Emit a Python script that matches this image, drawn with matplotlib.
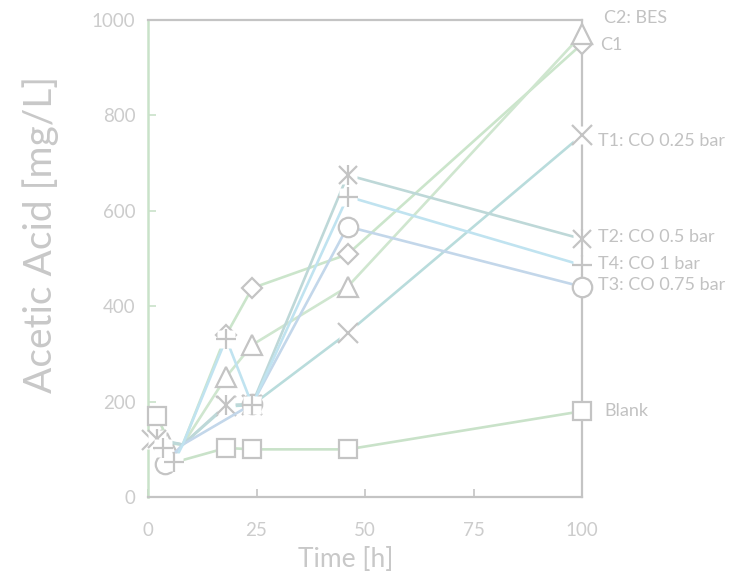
import matplotlib
matplotlib.use("Agg")
import matplotlib.pyplot as plt

plt.rcParams["font.family"] = ["Lato", "DejaVu Sans"]

# ---- data ----
T_BLANK = [2, 7, 18, 24, 46, 100]
BLANK = [170, 75, 103, 100, 100, 180]

T_C1 = [2, 8, 18, 24, 46, 100]
C1 = [118, 110, 340, 438, 509, 950]

T_C2 = [4.3, 8, 18, 24, 46, 100]
C2 = [113, 110, 252, 319, 441, 970]

T_T1 = [1, 8, 18, 24, 46, 100]
T1 = [120, 110, 190, 193, 344, 759]

T_T2 = [2, 8, 18, 24, 46, 100]
T2 = [122, 110, 193, 195, 675, 541]

T_T3 = [3.8, 8, 24, 46, 100]
T3 = [70, 110, 195, 567, 441]

T_T4 = [3.5, 6, 8, 18, 24, 46, 100]
T4 = [102, 74, 110, 332, 193, 630, 486]

LABELS = ["Blank", "C1", "C2: BES", "T1: CO 0.25 bar", "T2: CO 0.5 bar",
          "T3: CO 0.75 bar", "T4: CO 1 bar"]

X_TICKS = [0, 25, 50, 75, 100]
Y_TICKS = [0, 200, 400, 600, 800, 1000]

# ---- style ----
GRAY = "#c4c4c4"
TXT = "#cccccc"
series = [
    # t, v, label, line colour, marker, hidden-marker index, label offset (px)
    (T_BLANK, BLANK, LABELS[0], "#c9e2c9", "s", 1, (22, 0)),
    (T_C1, C1, LABELS[1], "#cbe5cb", "D", 1, (18, -1)),
    (T_C2, C2, LABELS[2], "#cfe6cf", "^", 1, (22, 16)),
    (T_T1, T1, LABELS[3], "#b9dcdc", "x", 1, (16, -6)),
    (T_T2, T2, LABELS[4], "#bed8d8", "*x", 1, (16, 2)),
    (T_T3, T3, LABELS[5], "#c3d7ea", "o", 1, (16, 2)),
    (T_T4, T4, LABELS[6], "#c0e3f0", "+", 2, (16, 1)),
]

fig = plt.figure(figsize=(7.31, 5.72), dpi=100)
ax = fig.add_axes([0.2025, 0.131, 0.5937, 0.834])

z = 3
for t, v, lab, col, mk, skip, off in series:
    keep = [i for i in range(len(t)) if i != skip]
    tk = [t[i] for i in keep]
    vk = [v[i] for i in keep]
    ax.plot(t, v, color=col, lw=1.9, zorder=z, solid_capstyle="butt", clip_on=False)
    if mk in ("x", "+", "*x"):
        ax.plot(tk, vk, ls="none", marker="s", ms=13, mfc="white", mec="none",
                zorder=z + 0.1, clip_on=False)
        if mk == "*x":
            ax.plot(tk, vk, ls="none", marker="x", ms=13, mec=GRAY, mew=1.6,
                    zorder=z + 0.2, clip_on=False)
            ax.plot(tk, vk, ls="none", marker="|", ms=14, mec=GRAY, mew=1.6,
                    zorder=z + 0.2, clip_on=False)
        else:
            ax.plot(tk, vk, ls="none", marker=mk, ms=14, mec=GRAY, mew=1.6,
                    zorder=z + 0.2, clip_on=False)
    else:
        ms = {"s": 13, "D": 10, "^": 14, "o": 14}[mk]
        ax.plot(tk, vk, ls="none", marker=mk, ms=ms, mfc="white", mec=GRAY, mew=1.6,
                zorder=z + 0.2, clip_on=False)
    ax.annotate(lab, xy=(t[-1], v[-1]), xytext=off, textcoords="offset pixels",
                ha="left", va="center", fontsize=13, color="#c2c2c2",
                annotation_clip=False)
    z += 1

ax.set_xlim(0, 100)
ax.set_ylim(0, 1000)
ax.set_xticks(X_TICKS)
ax.set_yticks(Y_TICKS)
ax.tick_params(axis="both", direction="in", length=6, width=1.2, labelsize=13.5,
               labelcolor=TXT)
ax.tick_params(axis="y", color="#c9e2c9", pad=9)
ax.tick_params(axis="x", color=GRAY, pad=18)
for s in ["top", "right", "bottom"]:
    ax.spines[s].set_color(GRAY)
    ax.spines[s].set_linewidth(1.6)
ax.spines["left"].set_color("#c9e2c9")
ax.spines["left"].set_linewidth(1.8)

ax.set_xlabel("Time [h]", fontsize=19, color="#c8c8c8")
ax.xaxis.set_label_coords(0.455, -0.105)
ax.set_ylabel("Acetic Acid [mg/L]", fontsize=28, color="#c8c8c8")
ax.yaxis.set_label_coords(-0.205, 0.55)

fig.savefig("out.png", dpi=100)
